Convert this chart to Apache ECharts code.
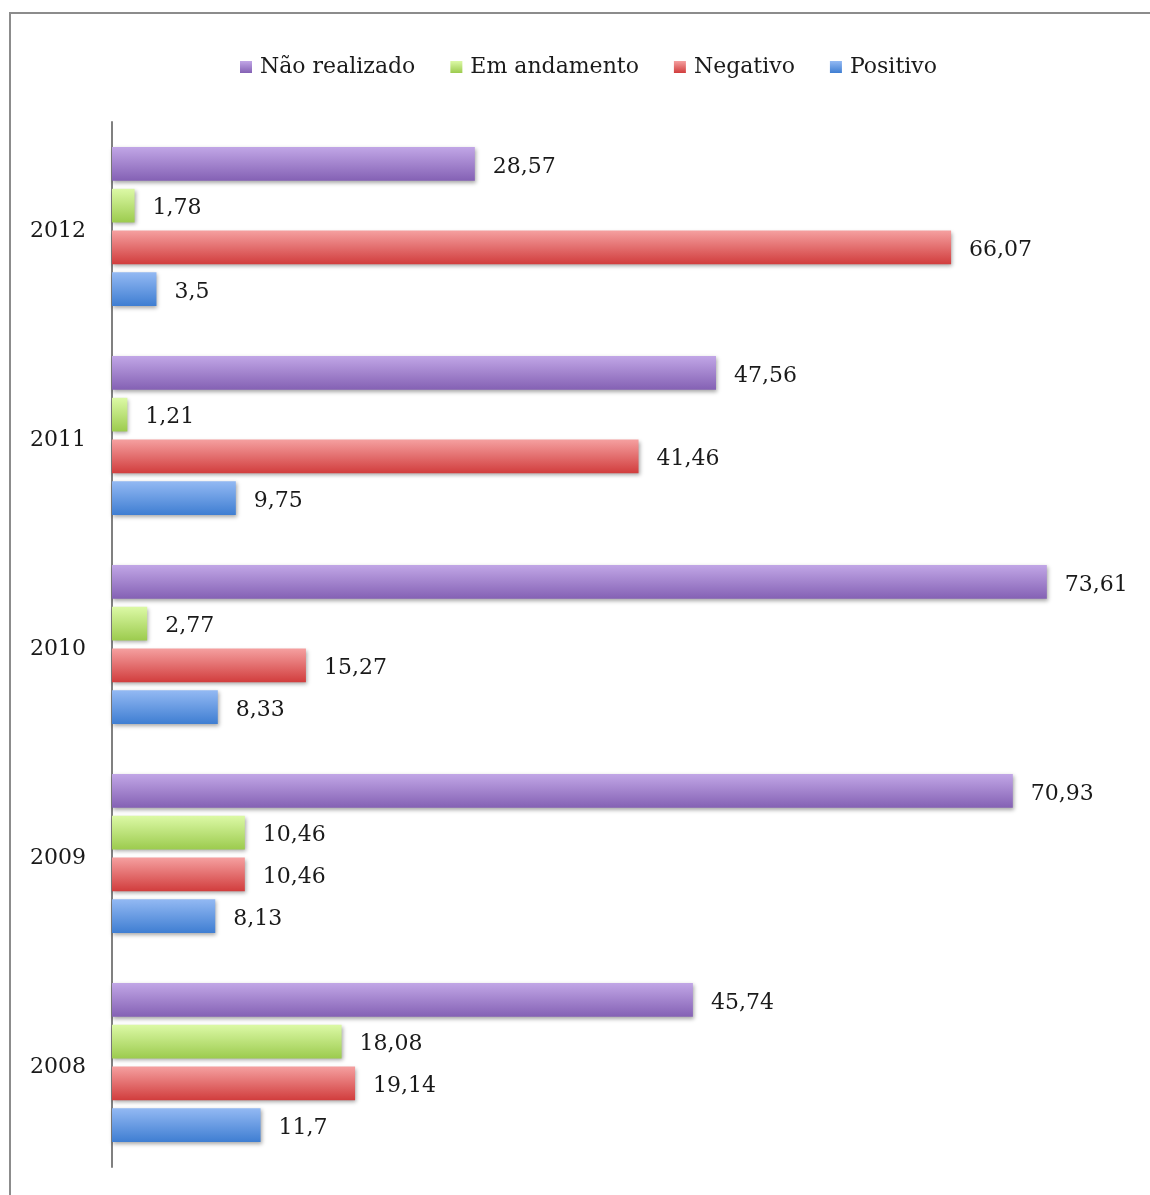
<!DOCTYPE html>
<html>
<head>
<meta charset="utf-8">
<script src="https://cdn.jsdelivr.net/npm/echarts@6/dist/echarts.min.js"></script>
<style>
html,body{margin:0;padding:0;background:#fff;}
#chart{width:1150px;height:1195px;}
</style>
</head>
<body>
<div id="chart"></div>
<script>
const categories = ['2008', '2009', '2010', '2011', '2012'];
const naoRealizado = [45.74, 70.93, 73.61, 47.56, 28.57];
const emAndamento = [18.08, 10.46, 2.77, 1.21, 1.78];
const negativo = [19.14, 10.46, 15.27, 41.46, 66.07];
const positivo = [11.7, 8.13, 8.33, 9.75, 3.5];
const legendNames = ['Não realizado', 'Em andamento', 'Negativo', 'Positivo'];

const FONT = '"DejaVu Serif", "Liberation Serif", serif';
function grad(top, bottom) {
  return new echarts.graphic.LinearGradient(0, 0, 0, 1, [
    {offset: 0, color: top}, {offset: 1, color: bottom}
  ]);
}
function fmt(p) { return String(p.value).replace('.', ','); }
function mk(name, data, top, bottom) {
  return {
    name: name, type: 'bar', data: data,
    barCategoryGap: '24%', barGap: '24%',
    itemStyle: {
      color: grad(top, bottom),
      shadowColor: 'rgba(0,0,0,0.35)', shadowBlur: 4, shadowOffsetX: 1, shadowOffsetY: 2
    },
    label: {
      show: true, position: 'right', distance: 18, offset: [0, 3], formatter: fmt,
      fontFamily: FONT, fontSize: 22, color: '#1a1a1a'
    },
    emphasis: {disabled: true}
  };
}
const chart = echarts.init(document.getElementById('chart'));
chart.setOption({
  animation: false,
  backgroundColor: '#fff',
  graphic: [{
    type: 'polyline', silent: true,
    shape: {points: [[10, 1195], [10, 13], [1150, 13]]},
    style: {stroke: '#8c8c8c', lineWidth: 2, fill: null}
  }],
  legend: {
    data: legendNames, top: 51, left: 235,
    icon: 'rect',
    itemWidth: 12, itemHeight: 12, itemGap: 35,
    textStyle: {fontFamily: FONT, fontSize: 22, color: '#1a1a1a', padding: [0, 0, 0, 3]}
  },
  grid: {left: 112, right: 22, top: 122, bottom: 28, containLabel: false},
  xAxis: {type: 'value', min: 0, max: 80, show: false},
  yAxis: {
    type: 'category', data: categories,
    axisLine: {show: true, lineStyle: {color: '#808080', width: 2}},
    axisTick: {show: false},
    axisLabel: {
      fontFamily: FONT, fontSize: 22, color: '#1a1a1a', margin: 26,
      formatter: function (v) { return '{a|' + v + '}'; },
      rich: {a: {fontFamily: FONT, fontSize: 22, color: '#1a1a1a', padding: [10, 0, 0, 0]}}
    }
  },
  color: ['#9c7cc8', '#a8d860', '#d84a4a', '#4a86d8'],
  series: [
    mk('Não realizado', naoRealizado, '#c1a6e6', '#8461b4'),
    mk('Em andamento', emAndamento, '#dcf9a6', '#9ccb4e'),
    mk('Negativo', negativo, '#f5a0a0', '#d13d3d'),
    mk('Positivo', positivo, '#93b9f3', '#3f7ed2')
  ]
});
</script>
</body>
</html>
